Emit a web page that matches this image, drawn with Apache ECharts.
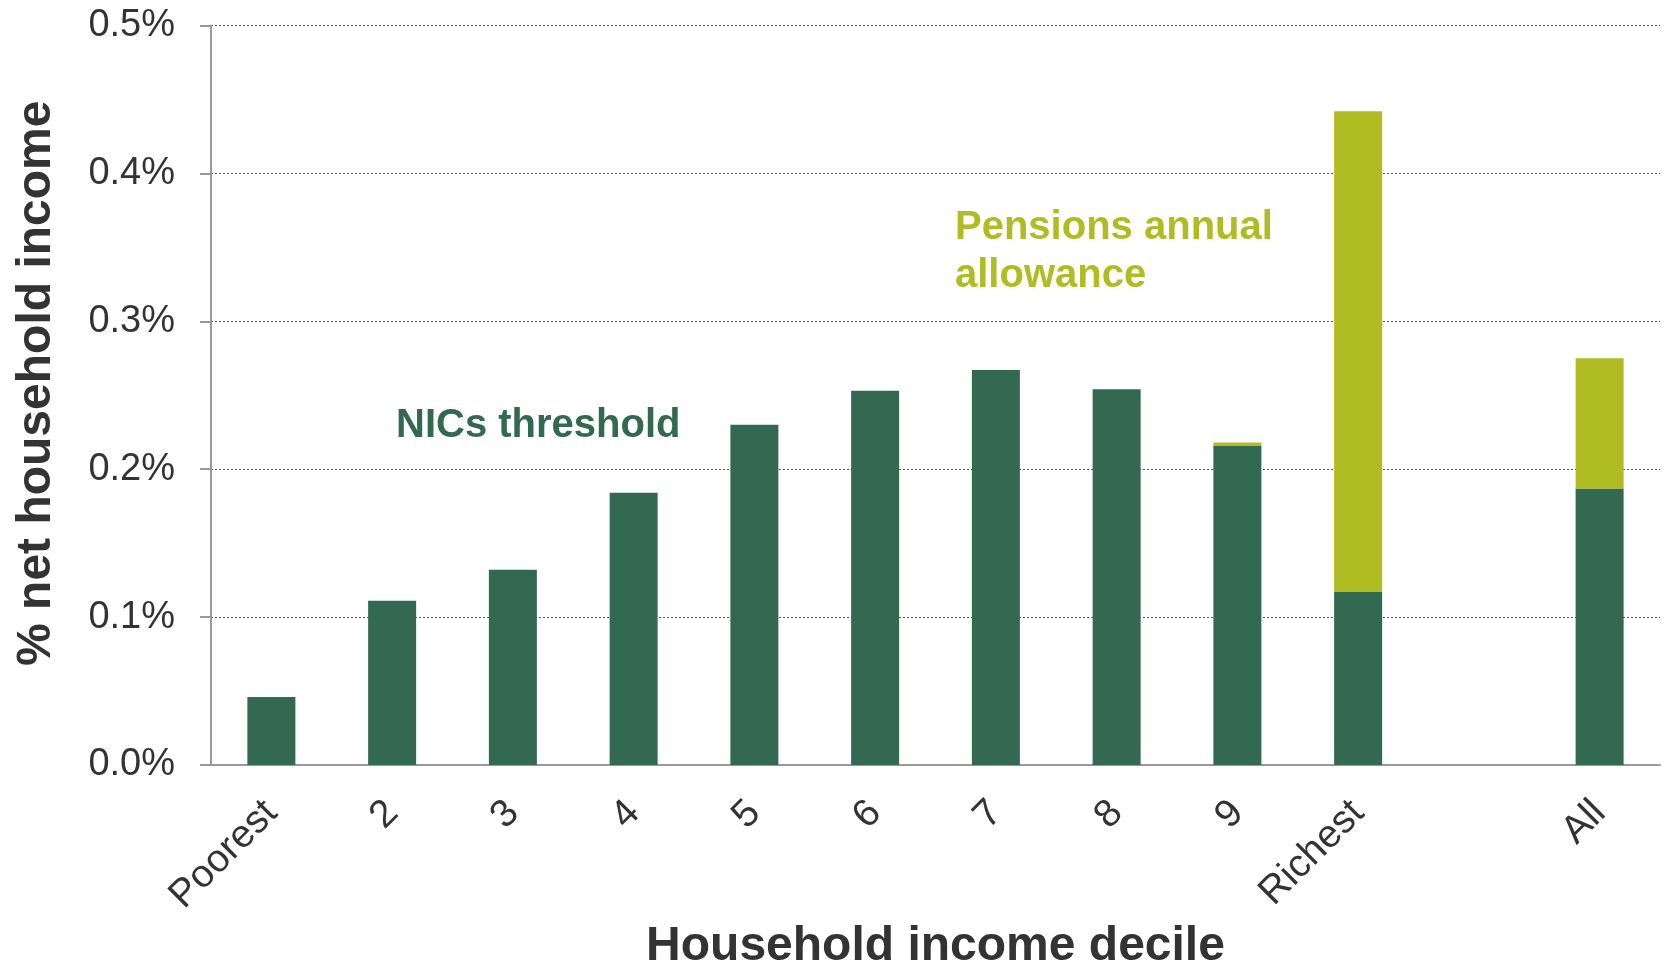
<!DOCTYPE html>
<html>
<head>
<meta charset="utf-8">
<script src="https://cdn.jsdelivr.net/npm/echarts@6/dist/echarts.min.js"></script>
<style>
  html, body { margin: 0; padding: 0; background: #ffffff; }
  #main { width: 1669px; height: 973px; }
</style>
</head>
<body>
<div id="main"></div>
<script>
var categories = ['Poorest', '2', '3', '4', '5', '6', '7', '8', '9', 'Richest', '', 'All'];
// % of net household income
var nicsThreshold = [0.046, 0.111, 0.132, 0.184, 0.230, 0.253, 0.267, 0.254, 0.216, 0.117, null, 0.187];
var pensionsAllowance = [null, null, null, null, null, null, null, null, 0.002, 0.325, null, 0.088];
var yTicks = [0, 0.1, 0.2, 0.3, 0.4, 0.5];

var darkGreen = '#336851';
var lime = '#afbd22';
var font = "'Liberation Sans', Arial, sans-serif";

var chart = echarts.init(document.getElementById('main'));

var option = {
  backgroundColor: '#ffffff',
  animation: false,
  grid: {
    left: 211,
    right: 9,
    top: 25.5,
    bottom: 208,
    containLabel: false,
    outerBoundsMode: 'none'
  },
  xAxis: {
    type: 'category',
    data: categories,
    name: 'Household income decile',
    nameLocation: 'middle',
    nameGap: 156,
    nameTextStyle: {
      fontFamily: font,
      fontSize: 48,
      fontWeight: 'bold',
      color: '#333333'
    },
    axisLine: { lineStyle: { color: '#999999', width: 2 } },
    axisTick: { length: 11, lineStyle: { color: '#999999', width: 2 } },
    axisLabel: {
      interval: 0,
      rotate: 45,
      margin: 42,
      fontFamily: font,
      fontSize: 39,
      color: '#333333'
    }
  },
  yAxis: {
    type: 'value',
    min: yTicks[0],
    max: yTicks[yTicks.length - 1],
    interval: 0.1,
    name: '% net household income',
    nameLocation: 'middle',
    nameGap: 150,
    nameTextStyle: {
      fontFamily: font,
      fontSize: 48,
      fontWeight: 'bold',
      color: '#333333',
      padding: [0, 0, 0, 24]
    },
    axisLine: { show: true, lineStyle: { color: '#999999', width: 2 } },
    axisTick: { show: true, length: 11, lineStyle: { color: '#999999', width: 2 } },
    axisLabel: {
      margin: 36,
      fontFamily: font,
      fontSize: 38,
      color: '#333333',
      formatter: function (v) { return v.toFixed(1) + '%'; }
    },
    splitLine: {
      lineStyle: { color: darkGreen, type: [2, 2], width: 1 }
    }
  },
  series: [
    {
      name: 'NICs threshold',
      type: 'bar',
      stack: 'total',
      barWidth: 48,
      data: nicsThreshold,
      itemStyle: { color: darkGreen }
    },
    {
      name: 'Pensions annual allowance',
      type: 'bar',
      stack: 'total',
      barWidth: 48,
      data: pensionsAllowance,
      itemStyle: { color: lime }
    }
  ],
  graphic: [
    {
      type: 'text',
      left: 396,
      top: 406,
      style: {
        text: 'NICs threshold',
        fontFamily: font,
        fontSize: 40,
        fontWeight: 'bold',
        fill: darkGreen
      }
    },
    {
      type: 'text',
      left: 955,
      top: 204,
      style: {
        text: 'Pensions annual\nallowance',
        fontFamily: font,
        fontSize: 40,
        fontWeight: 'bold',
        lineHeight: 48,
        fill: lime
      }
    }
  ]
};

chart.setOption(option);
</script>
</body>
</html>
